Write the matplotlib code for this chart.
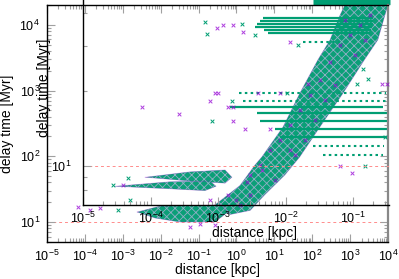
import numpy as np
import matplotlib
matplotlib.use("Agg")
import matplotlib.pyplot as plt
from matplotlib.ticker import LogLocator, FixedLocator, NullFormatter

plt.rcParams['font.family'] = ['Liberation Sans', 'DejaVu Sans']
plt.rcParams['mathtext.fontset'] = 'custom'
plt.rcParams['mathtext.rm'] = 'Liberation Sans'
plt.rcParams['mathtext.default'] = 'regular'
plt.rcParams['hatch.linewidth'] = 0.6

purple = '#9400d3'
green = '#009e73'
tickgray = '#a0a0a0'

# dichte streifen (gleicher delay time ueber viele distanzen)
dense_y = [12600, 11500, 10200, 9300, 8300, 7600, 563, 460, 350, 260, 197]
dense_x0 = [5.0, 4.2, 3.5, 3.1, 5.5, 6.7, 0.67, 3.5, 4.2, 10.4, 14.1]
dense_x1 = [4000, 4000, 4000, 3800, 3500, 3300, 7500, 1e4, 1e4, 1e4, 1e4]

# duenne streifen
sparse_y = [5490, 918, 695, 145, 105]
sparse_x0 = [56, 1.2, 1.5, 105, 190]
sparse_x1 = [540, 9000, 9300, 8000, 7500]

# oberer rand (ueber der achse)
top_y = [22000]
top_x0 = [105]
top_x1 = [1.1e4]

# diagonale wolke
diag_x = [0.27, 1.24, 3.1, 4.7, 17, 47, 142, 295, 540, 730, 1e4,
          8300, 5400, 2400, 650, 160, 47, 19, 5.6, 2.3, 0.68]
diag_y = [18.2, 36, 74, 98, 280, 910, 2950, 5900, 14000, 2e4, 2e4,
          14000, 5900, 2950, 910, 280, 98, 52, 26, 15, 13]

# klumpen unten
blob_x = [2.4e-3, 9.6e-3, 0.41, 0.6, 0.27, 0.032, 7.1e-3]
blob_y = [14.2, 17.5, 18.2, 14.2, 10, 10, 11.5]

# zwei baender links
band1_x = [3.9e-3, 0.059, 0.50, 0.76, 0.50, 0.059]
band1_y = [48, 58, 62, 48, 39, 42]
band2_x = [6.2e-4, 0.0176, 0.20, 0.29, 0.148, 0.0176]
band2_y = [35, 41, 42, 35, 30, 32]

# einzelne punkte
purple_x = [3.2e-3, 0.030, 6.6e-5, 1.36e-4, 2.5e-4, 1.0e-3, 0.44, 0.81, 1.48, 0.305,
            25.8, 0.27, 0.325, 3.69, 14.1, 0.20, 0.60, 0.81, 0.81, 1.68, 7.65, 77,
            6900, 9350, 1115, 538, 25.8, 4.71, 1.89, 0.60, 0.97, 0.20, 0.109, 0.059,
            0.27, 47, 87, 160, 293, 538, 990, 730, 1815, 3330, 25.8, 14.1, 7.65, 4.17,
            2.27, 118, 216, 397, 1340, 2460, 64, 35, 10.4, 2.27, 1.24]
purple_y = [563, 440, 16.9, 15.2, 16.3, 37, 9960, 9960, 7800, 8970,
            5490, 918, 918, 918, 918, 695, 563, 563, 345, 260, 260, 1260,
            1260, 1260, 56, 71, 125, 62, 41, 26, 21.6, 21.6, 9.3, 8.4,
            9.0, 507, 857, 1450, 2720, 4950, 7020, 11890, 9960, 14160, 300, 177, 125, 74,
            52, 357, 720, 1215, 3480, 5890, 177, 105, 44, 26, 18.2]
green_x = [0.148, 1.40, 0.167, 3.08, 42, 21.5, 0.76, 0.226, 1510, 2950, 2180,
           2460, 8280, 1.37e-3, 5.5e-4, 7.5e-4, 1.55e-3, 5.2e-3]
green_y = [11070, 10330, 7270, 7020, 4950, 918, 695, 345, 1260, 1500, 2130,
           71, 197, 47, 37, 15.2, 21.6, 14.2]

fig = plt.figure(figsize=(3.99, 2.79), dpi=100)
ax = fig.add_axes([47/399, 37/279, 341/399, 237/279])
ax.set_xscale('log')
ax.set_yscale('log')
ax.set_xlim(1e-5, 1e4)
ax.set_ylim(4.97, 2.0e4)

ax.axhline(10, color='#ff8c8c', lw=0.7, ls=(0, (3, 3)), zorder=1)

def cloud(a, xs, ys):
    a.fill(xs, ys, facecolor='#0b9f77', edgecolor=(0.85, 0.72, 0.95, 0.65),
           hatch='xxxx', lw=0, zorder=2)
    a.plot(xs + xs[:1], ys + ys[:1], color=purple, lw=0.5, alpha=0.3, zorder=2)

cloud(ax, diag_x, diag_y)
cloud(ax, blob_x, blob_y)
cloud(ax, band1_x, band1_y)
cloud(ax, band2_x, band2_y)

ax.hlines(dense_y, dense_x0, dense_x1, color=green, lw=1.6, zorder=2)
ax.hlines(sparse_y, sparse_x0, sparse_x1, color=green, lw=1.5,
          linestyles=(0, (1.2, 1.6)), zorder=2)
ax.hlines(top_y, top_x0, top_x1, color=green, lw=3.8, zorder=2, clip_on=False)

ax.scatter(green_x, green_y, marker='x', s=7, lw=0.7, color=green, zorder=3)
ax.scatter(purple_x, purple_y, marker='x', s=7, lw=0.7, color=purple,
           alpha=0.75, zorder=3, clip_on=False)

ax.xaxis.set_major_locator(LogLocator(base=10, numticks=20))
ax.xaxis.set_minor_locator(LogLocator(base=10, subs=np.arange(2, 10), numticks=20))
ax.yaxis.set_major_locator(LogLocator(base=10, numticks=20))
ax.yaxis.set_minor_locator(LogLocator(base=10, subs=np.arange(2, 10), numticks=20))
ax.xaxis.set_minor_formatter(NullFormatter())
ax.yaxis.set_minor_formatter(NullFormatter())
ax.tick_params(which='both', direction='in', color=tickgray, top=True, right=True,
               labelsize=9, width=0.8)
ax.tick_params(which='major', length=6)
ax.tick_params(which='minor', length=3)
ax.tick_params(axis='x', pad=5)
ax.tick_params(axis='y', pad=5)
for s in ['left', 'bottom', 'top']:
    ax.spines[s].set_linewidth(1.0)
ax.spines['right'].set_color('#888888')
ax.spines['right'].set_linewidth(1.6)
ax.set_xlabel('distance [kpc]', fontsize=10)
ax.set_ylabel('delay time [Myr]', fontsize=10)
ax.xaxis.set_label_coords(0.50, -0.088)
ax.yaxis.set_label_coords(-0.097, 0.50)

# eingebettetes fenster
ins = fig.add_axes([83/399, 74/279, 306/399, 215/279])
ins.patch.set_alpha(0)
ins.set_xscale('log')
ins.set_yscale('log')
ins.set_xlim(1e-5, 0.34)
ins.set_ylim(4.36, 427)
ins.axhline(10, color='#ff8c8c', lw=0.7, ls=(0, (3, 3)), zorder=1)
ins.xaxis.set_major_locator(LogLocator(base=10, numticks=20))
ins.xaxis.set_minor_locator(LogLocator(base=10, subs=np.arange(2, 10), numticks=20))
ins.xaxis.set_minor_formatter(NullFormatter())
ins.yaxis.set_major_locator(FixedLocator([10]))
ins.yaxis.set_minor_locator(FixedLocator([6, 8, 50, 130, 260]))
ins.yaxis.set_minor_formatter(NullFormatter())
ins.tick_params(which='both', direction='in', color=tickgray, labelsize=9, width=0.8)
ins.tick_params(which='major', length=6)
ins.tick_params(which='minor', length=3)
ins.tick_params(axis='x', pad=4)
ins.tick_params(axis='y', pad=8)
ins.spines['top'].set_visible(False)
ins.spines['right'].set_visible(False)
ins.spines['left'].set_linewidth(1.0)
ins.spines['bottom'].set_linewidth(1.0)
ins.set_xlabel('distance [kpc]', fontsize=10)
ins.set_ylabel('delay time [Myr]', fontsize=10)
ins.xaxis.set_label_coords(0.559, -0.098)
ins.yaxis.set_label_coords(-0.105, 0.544)

fig.savefig('out.png', dpi=100)
